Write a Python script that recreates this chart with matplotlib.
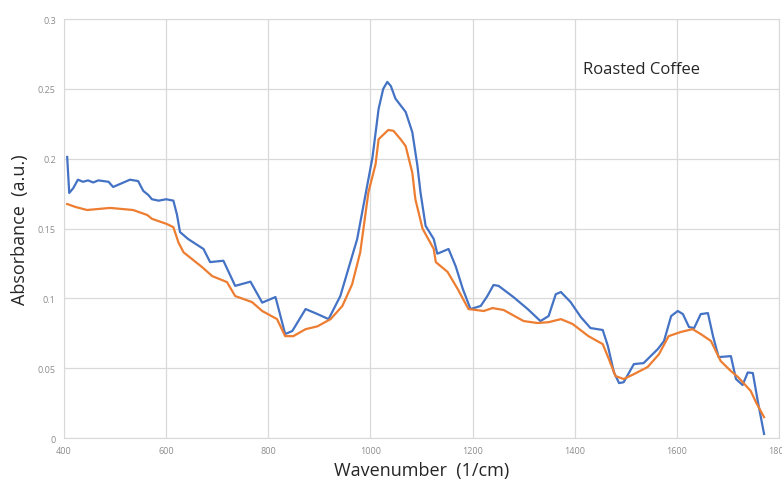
import matplotlib.pyplot as plt

# blue spectrum (wavenumber, absorbance)
wn_blue = [406, 410, 418, 427, 437, 447, 457, 467, 477, 487, 496, 510, 529, 545, 555, 565, 572,
           585, 600, 614, 621, 627, 643, 673, 686, 712, 735, 765, 788, 814, 833, 847, 873, 895,
           918, 941, 974, 1004, 1016, 1025, 1033, 1040, 1049, 1069, 1082, 1092, 1098, 1108,
           1124, 1131, 1153, 1167, 1181, 1196, 1216, 1229, 1241, 1251, 1280, 1308, 1333, 1349,
           1363, 1373, 1392, 1412, 1431, 1455, 1465, 1477, 1487, 1496, 1516, 1535, 1563, 1575,
           1589, 1602, 1612, 1624, 1634, 1647, 1661, 1671, 1682, 1706, 1716, 1729, 1739, 1749,
           1759, 1771]
abs_blue = [0.2013, 0.1755, 0.1790, 0.1850, 0.1835, 0.1845, 0.1830, 0.1845, 0.1840, 0.1835, 0.1798,
            0.1820, 0.1850, 0.1840, 0.1770, 0.1740, 0.1710, 0.1700, 0.1710, 0.1700, 0.1600, 0.1475,
            0.1425, 0.1354, 0.1260, 0.1270, 0.1090, 0.1120, 0.0970, 0.1010, 0.0745, 0.0767, 0.0924,
            0.0890, 0.0852, 0.1017, 0.1425, 0.2010, 0.2357, 0.2500, 0.2550, 0.2520, 0.2430, 0.2335,
            0.2190, 0.1950, 0.1760, 0.1520, 0.1425, 0.1320, 0.1354, 0.1230, 0.1067, 0.0924, 0.0946,
            0.1017, 0.1096, 0.1090, 0.1010, 0.0924, 0.0838, 0.0874, 0.1030, 0.1046, 0.0974, 0.0867,
            0.0788, 0.0774, 0.0660, 0.0470, 0.0394, 0.0400, 0.0530, 0.0537, 0.0638, 0.0695, 0.0874,
            0.0910, 0.0888, 0.0795, 0.0788, 0.0888, 0.0895, 0.0730, 0.0580, 0.0587, 0.0423, 0.0380,
            0.0470, 0.0466, 0.0258, 0.0030]

# orange spectrum
wn_orange = [406, 422, 445, 490, 535, 563, 572, 601, 614, 624, 634, 670, 690, 719, 735, 768, 788,
             817, 833, 849, 873, 896, 922, 945, 964, 980, 996, 1010, 1016, 1035, 1045, 1059, 1069,
             1082, 1088, 1102, 1124, 1128, 1151, 1171, 1192, 1222, 1239, 1261, 1300, 1327, 1349,
             1373, 1396, 1427, 1455, 1467, 1480, 1496, 1516, 1543, 1565, 1584, 1608, 1631, 1647,
             1667, 1686, 1706, 1720, 1745, 1755, 1771]
abs_orange = [0.1676, 0.1655, 0.1633, 0.1648, 0.1633, 0.1597, 0.1570, 0.1533, 0.1510, 0.1400,
              0.1330, 0.1225, 0.1160, 0.1117, 0.1017, 0.0974, 0.0910, 0.0852, 0.0730, 0.0730,
              0.0780, 0.0800, 0.0852, 0.0946, 0.1100, 0.1330, 0.1760, 0.1960, 0.2140, 0.2206,
              0.2200, 0.2140, 0.2090, 0.1900, 0.1710, 0.1500, 0.1354, 0.1260, 0.1190, 0.1067,
              0.0924, 0.0910, 0.0931, 0.0917, 0.0838, 0.0824, 0.0830, 0.0852, 0.0817, 0.0730,
              0.0673, 0.0566, 0.0444, 0.0423, 0.0458, 0.0509, 0.0600, 0.0730, 0.0760, 0.0780,
              0.0745, 0.0695, 0.0552, 0.0480, 0.0437, 0.0337, 0.0258, 0.0150]

xticks = [400, 600, 800, 1000, 1200, 1400, 1600, 1800]
yticks = [0, 0.05, 0.1, 0.15, 0.2, 0.25, 0.3]
ytick_labels = ["0", "0.05", "0.1", "0.15", "0.2", "0.25", "0.3"]

plt.rcParams['font.family'] = ['Open Sans', 'DejaVu Sans']

fig = plt.figure(figsize=(7.82, 4.89), dpi=100)
ax = fig.add_axes([0.082, 0.102, 0.914, 0.857])

ax.plot(wn_blue, abs_blue, color="#4472C4", lw=1.6)
ax.plot(wn_orange, abs_orange, color="#ED7D31", lw=1.6)

ax.set_xlim(400, 1800)
ax.set_ylim(0, 0.3)
ax.set_xticks(xticks)
ax.set_yticks(yticks)
ax.set_yticklabels(ytick_labels)
ax.grid(True, color="#D9D9D9", lw=0.9)
ax.set_axisbelow(True)
for s in ax.spines.values():
    s.set_color("#D9D9D9")
ax.tick_params(length=0, labelsize=6.5, labelcolor="#8C8C8C", pad=6)

ax.set_xlabel("Wavenumber  (1/cm)", fontsize=13, color="#262626", labelpad=4)
ax.set_ylabel("Absorbance  (a.u.)", fontsize=13, color="#262626", labelpad=6)
ax.text(1416, 0.264, "Roasted Coffee", fontsize=12, color="#262626",
        ha="left", va="center")

fig.savefig("out.png", dpi=100)
